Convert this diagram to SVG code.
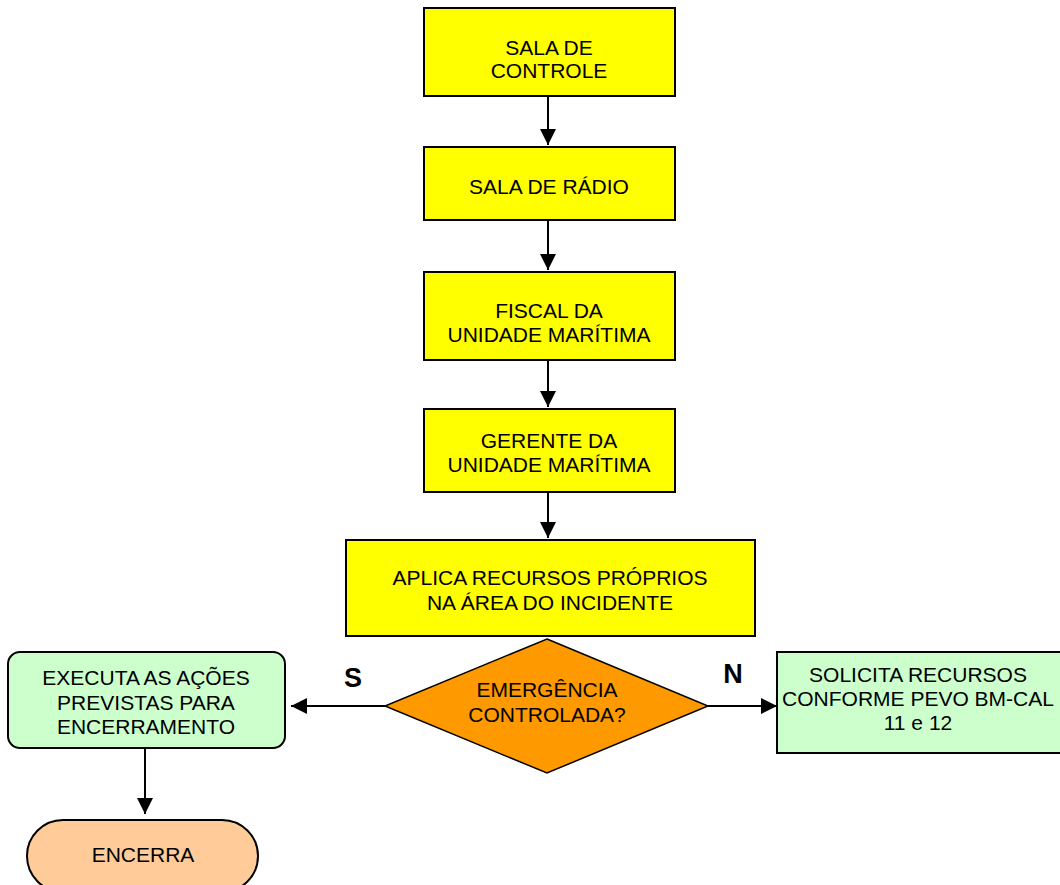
<svg xmlns="http://www.w3.org/2000/svg" width="1060" height="885" viewBox="0 0 1060 885">
  <style>
    .box { fill: #FFFF00; stroke: #000; stroke-width: 2; }
    .green { fill: #CCFFCC; stroke: #000; stroke-width: 2; }
    .dec { fill: #FF9900; stroke: #000; stroke-width: 1.5; }
    .term { fill: #FFCC99; stroke: #000; stroke-width: 2; }
    .lbl { font-family: "Liberation Sans", Arial, sans-serif; font-size: 21px; fill: #000; text-anchor: middle; }
    .yn { font-family: "Liberation Sans", Arial, sans-serif; font-size: 27px; font-weight: bold; fill: #000; text-anchor: middle; }
    .conn { stroke: #000; stroke-width: 2; fill: none; marker-end: url(#arrow); }
  </style>
  <defs>
    <marker id="arrow" viewBox="0 0 16 16" refX="16" refY="8" markerWidth="16" markerHeight="16" markerUnits="userSpaceOnUse" orient="auto">
      <path d="M0,0 L16,8 L0,16 Z" fill="#000"/>
    </marker>
  </defs>
  <rect width="1060" height="885" fill="#fff"/>

  <g id="connectors">
    <line class="conn" x1="548" y1="96" x2="548" y2="145"/>
    <line class="conn" x1="548" y1="220" x2="548" y2="270"/>
    <line class="conn" x1="548" y1="360" x2="548" y2="407"/>
    <line class="conn" x1="548" y1="492" x2="548" y2="538"/>
    <line class="conn" x1="385" y1="706" x2="291" y2="706"/>
    <line class="conn" x1="708" y1="706" x2="777" y2="706"/>
    <line class="conn" x1="145" y1="748" x2="145" y2="814"/>
  </g>

  <g id="sala-controle">
    <rect class="box" x="424" y="8" width="251" height="88"/>
    <text class="lbl" x="549" y="55">SALA DE</text>
    <text class="lbl" x="549" y="78">CONTROLE</text>
  </g>

  <g id="sala-radio">
    <rect class="box" x="424" y="147" width="251" height="73"/>
    <text class="lbl" x="549" y="194">SALA DE RÁDIO</text>
  </g>

  <g id="fiscal">
    <rect class="box" x="424" y="272" width="251" height="88"/>
    <text class="lbl" x="549" y="318">FISCAL DA</text>
    <text class="lbl" x="549" y="342">UNIDADE MARÍTIMA</text>
  </g>

  <g id="gerente">
    <rect class="box" x="424" y="409" width="251" height="83"/>
    <text class="lbl" x="549" y="448">GERENTE DA</text>
    <text class="lbl" x="549" y="472">UNIDADE MARÍTIMA</text>
  </g>

  <g id="aplica">
    <rect class="box" x="346" y="540" width="409" height="96"/>
    <text class="lbl" x="550" y="585">APLICA RECURSOS PRÓPRIOS</text>
    <text class="lbl" x="550" y="610">NA ÁREA DO INCIDENTE</text>
  </g>

  <g id="decisao">
    <polygon class="dec" points="547,639 708,706 547,773 385,706"/>
    <text class="lbl" x="547" y="697">EMERGÊNCIA</text>
    <text class="lbl" x="547" y="722">CONTROLADA?</text>
  </g>

  <text class="yn" x="353" y="687">S</text>
  <text class="yn" x="733" y="683">N</text>

  <g id="executa">
    <rect class="green" x="8" y="652" width="277" height="96" rx="12" ry="12"/>
    <text class="lbl" x="146" y="685">EXECUTA AS AÇÕES</text>
    <text class="lbl" x="146" y="710">PREVISTAS PARA</text>
    <text class="lbl" x="146" y="734">ENCERRAMENTO</text>
  </g>

  <g id="solicita">
    <rect class="green" x="777" y="652" width="290" height="101"/>
    <text class="lbl" x="918" y="682">SOLICITA RECURSOS</text>
    <text class="lbl" x="918" y="706">CONFORME PEVO BM-CAL</text>
    <text class="lbl" x="918" y="730">11 e 12</text>
  </g>

  <g id="encerra">
    <rect class="term" x="27" y="820" width="231" height="72" rx="36" ry="36"/>
    <text class="lbl" x="143" y="862">ENCERRA</text>
  </g>
</svg>
